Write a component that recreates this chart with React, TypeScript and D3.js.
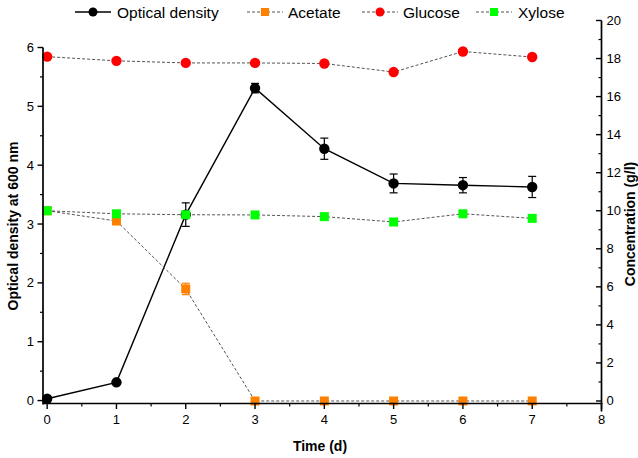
import React from "react";
import * as d3 from "d3";

const days = [0, 1, 2, 3, 4, 5, 6, 7];
const odValues = [0.03, 0.31, 3.16, 5.31, 4.28, 3.69, 3.66, 3.63];
const odErrors = [0.02, 0.02, 0.2, 0.08, 0.18, 0.16, 0.13, 0.18];
const acetateValues = [10.0, 9.46, 5.89, 0, 0, 0, 0, 0];
const acetateErrors = [0, 0, 0.3, 0, 0, 0, 0, 0];
const glucoseValues = [18.1, 17.88, 17.77, 17.77, 17.74, 17.29, 18.37, 18.08];
const xyloseValues = [10.0, 9.84, 9.79, 9.78, 9.69, 9.41, 9.84, 9.6];
const xTicks = [0, 1, 2, 3, 4, 5, 6, 7, 8];
const leftTicks = [0, 1, 2, 3, 4, 5, 6];
const rightTicks = [0, 2, 4, 6, 8, 10, 12, 14, 16, 18, 20];
const legendLabels = ["Optical density", "Acetate", "Glucose", "Xylose"];

const FONT = "'Liberation Sans', Arial, sans-serif";
const W = 638;
const H = 458;

export default function App() {
  const AX_L = 43;
  const AX_R = 601.5;
  const AX_B = 403.5;
  const x = d3.scaleLinear().domain([-0.06, 8]).range([AX_L, AX_R]);
  const yL = d3.scaleLinear().domain([-0.05, 6]).range([AX_B, 47.5]);
  const yR = d3.scaleLinear().domain([-0.5, 20]).range([410.5, 20.5]);

  const line = (vals: number[], ys: d3.ScaleLinear<number, number>) =>
    d3
      .line<number>()
      .x((_, i) => x(days[i]))
      .y((v) => ys(v))(vals) as string;

  const dashColor = "#555";
  const xMinor = [0.5, 1.5, 2.5, 3.5, 4.5, 5.5, 6.5, 7.5];
  const lMinor = [0.5, 1.5, 2.5, 3.5, 4.5, 5.5];
  const rMinor = [1, 3, 5, 7, 9, 11, 13, 15, 17, 19];

  const square = (cx: number, cy: number, fill: string, key: string) => (
    <rect key={key} x={cx - 4.5} y={cy - 4.5} width={9} height={9} fill={fill} />
  );

  const legendItems = [
    { x0: 75, tx: 117, type: "od" },
    { x0: 247, tx: 288, type: "ac" },
    { x0: 362, tx: 403, type: "gl" },
    { x0: 476, tx: 518, type: "xy" },
  ];
  const ly = 12;

  return (
    <svg width={W} height={H} style={{ display: "block", position: "absolute", left: 0, top: 0, background: "#fff" }} fontFamily={FONT}>
      <rect width={W} height={H} fill="#fff" />

      {/* OD line */}
      <path d={line(odValues, yL)} fill="none" stroke="#000" strokeWidth={1.4} />
      {odValues.map((v, i) =>
        odErrors[i] > 0.05 ? (
          <g key={"oe" + i} stroke="#000" strokeWidth={1.2}>
            <line x1={x(days[i])} x2={x(days[i])} y1={yL(v - odErrors[i])} y2={yL(v + odErrors[i])} />
            <line x1={x(days[i]) - 4} x2={x(days[i]) + 4} y1={yL(v - odErrors[i])} y2={yL(v - odErrors[i])} />
            <line x1={x(days[i]) - 4} x2={x(days[i]) + 4} y1={yL(v + odErrors[i])} y2={yL(v + odErrors[i])} />
          </g>
        ) : null
      )}
      {odValues.map((v, i) => (
        <circle key={"oc" + i} cx={x(days[i])} cy={yL(v)} r={5.2} fill="#000" />
      ))}

      {/* Acetate */}
      <path d={line(acetateValues, yR)} fill="none" stroke={dashColor} strokeWidth={1} strokeDasharray="3,2" />
      {acetateValues.map((v, i) =>
        acetateErrors[i] > 0 ? (
          <g key={"ae" + i} stroke="#FF8000" strokeWidth={1.2}>
            <line x1={x(days[i])} x2={x(days[i])} y1={yR(v - acetateErrors[i])} y2={yR(v + acetateErrors[i])} />
            <line x1={x(days[i]) - 4} x2={x(days[i]) + 4} y1={yR(v - acetateErrors[i])} y2={yR(v - acetateErrors[i])} />
            <line x1={x(days[i]) - 4} x2={x(days[i]) + 4} y1={yR(v + acetateErrors[i])} y2={yR(v + acetateErrors[i])} />
          </g>
        ) : null
      )}
      {acetateValues.map((v, i) => square(x(days[i]), yR(v), "#FF8000", "as" + i))}

      {/* Glucose */}
      <path d={line(glucoseValues, yR)} fill="none" stroke={dashColor} strokeWidth={1} strokeDasharray="3,2" />
      {glucoseValues.map((v, i) => (
        <circle key={"gc" + i} cx={x(days[i])} cy={yR(v)} r={5.2} fill="#FF0000" />
      ))}

      {/* Xylose */}
      <path d={line(xyloseValues, yR)} fill="none" stroke={dashColor} strokeWidth={1} strokeDasharray="3,2" />
      {xyloseValues.map((v, i) => square(x(days[i]), yR(v), "#00FF00", "xs" + i))}

      {/* X axis */}
      <line x1={AX_L} x2={AX_R + 1} y1={AX_B} y2={AX_B} stroke="#000" strokeWidth={1.7} />
      {xTicks.map((t) => (
        <g key={"xt" + t}>
          <line x1={x(t)} x2={x(t)} y1={AX_B} y2={AX_B + 5.5} stroke="#000" strokeWidth={1.4} />
          <text x={x(t)} y={424} fontSize={13} textAnchor="middle" fill="#000">{t}</text>
        </g>
      ))}
      {xMinor.map((t) => (
        <line key={"xm" + t} x1={x(t)} x2={x(t)} y1={AX_B} y2={AX_B + 3} stroke="#000" strokeWidth={1.2} />
      ))}
      <text x={320} y={451} fontSize={14} fontWeight="bold" textAnchor="middle" fill="#000">Time (d)</text>

      {/* Left axis */}
      <line x1={AX_L} x2={AX_L} y1={yL(6)} y2={AX_B + 1} stroke="#000" strokeWidth={1.7} />
      {leftTicks.map((t) => (
        <g key={"lt" + t}>
          <line x1={AX_L - 5.5} x2={AX_L} y1={yL(t)} y2={yL(t)} stroke="#000" strokeWidth={1.4} />
          <text x={34} y={yL(t) + 4.5} fontSize={13} textAnchor="end" fill="#000">{t}</text>
        </g>
      ))}
      {lMinor.map((t) => (
        <line key={"lm" + t} x1={AX_L - 3} x2={AX_L} y1={yL(t)} y2={yL(t)} stroke="#000" strokeWidth={1.2} />
      ))}
      <text transform={`translate(18,226) rotate(-90)`} fontSize={14} fontWeight="bold" textAnchor="middle" fill="#000">
        Optical density at 600 nm
      </text>

      {/* Right axis */}
      <line x1={AX_R} x2={AX_R} y1={yR(20)} y2={411.5} stroke="#000" strokeWidth={1.7} />
      {rightTicks.map((t) => (
        <g key={"rt" + t}>
          <line x1={AX_R - 5.5} x2={AX_R} y1={yR(t)} y2={yR(t)} stroke="#000" strokeWidth={1.4} />
          <text x={AX_R + 5} y={yR(t) + 4.5} fontSize={13} textAnchor="start" fill="#000">{t}</text>
        </g>
      ))}
      {rMinor.map((t) => (
        <line key={"rm" + t} x1={AX_R - 3} x2={AX_R} y1={yR(t)} y2={yR(t)} stroke="#000" strokeWidth={1.2} />
      ))}
      <text transform={`translate(634.5,224) rotate(-90)`} fontSize={14} fontWeight="bold" textAnchor="middle" fill="#000">
        Concentration (g/l)
      </text>

      {/* Legend */}
      {legendItems.map((it, i) => {
        const mid = it.x0 + 18;
        return (
          <g key={"lg" + i}>
            {it.type === "od" ? (
              <>
                <line x1={it.x0} x2={it.x0 + 36} y1={ly} y2={ly} stroke="#000" strokeWidth={1.4} />
                <circle cx={mid} cy={ly} r={4.5} fill="#000" />
              </>
            ) : (
              <>
                <line x1={it.x0} x2={it.x0 + 36} y1={ly} y2={ly} stroke={dashColor} strokeWidth={1} strokeDasharray="3,2" />
                {it.type === "gl" ? (
                  <circle cx={mid} cy={ly} r={4.5} fill="#FF0000" />
                ) : (
                  <rect x={mid - 4} y={ly - 4} width={8} height={8} fill={it.type === "ac" ? "#FF8000" : "#00FF00"} />
                )}
              </>
            )}
            <text x={it.tx} y={ly + 5.5} fontSize={15.5} fill="#000">{legendLabels[i]}</text>
          </g>
        );
      })}
    </svg>
  );
}
